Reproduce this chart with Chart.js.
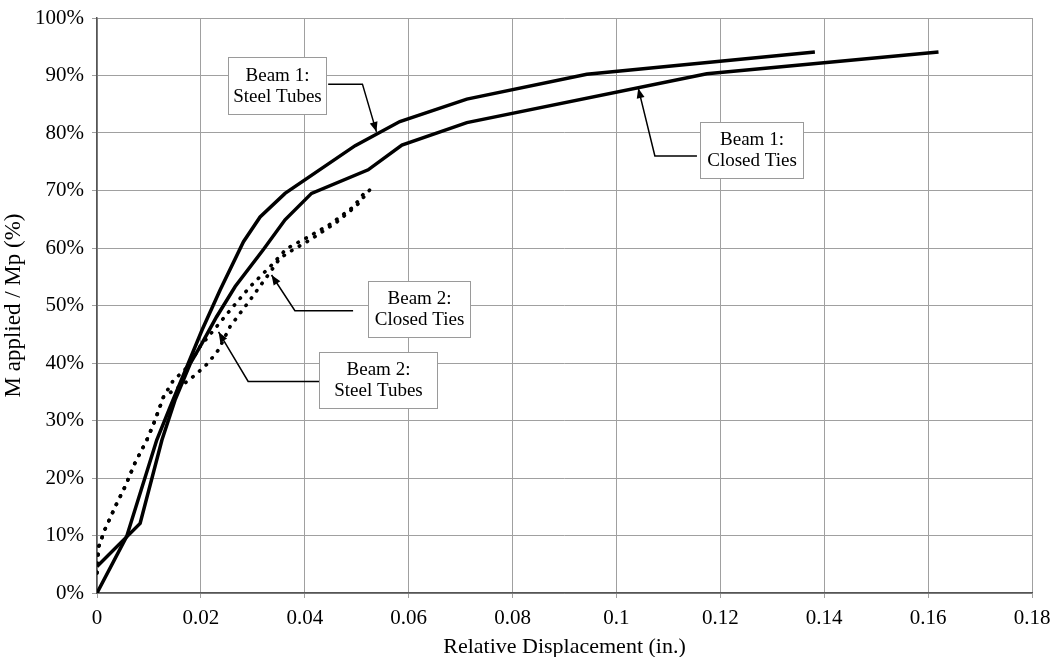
<!DOCTYPE html>
<html>
<head>
<meta charset="utf-8">
<script src="https://cdn.jsdelivr.net/npm/chart.js@4.4.1/dist/chart.umd.min.js"></script>
<style>
  html, body { margin: 0; padding: 0; background: #fff; }
  canvas { display: block; }
</style>
</head>
<body>
<canvas id="momentChart" width="1053" height="657"></canvas>
<script>
// Relative displacement (in.) and applied moment as % of Mp for each beam
const beam1TubesX = [0, 0.0057, 0.0115, 0.0141, 0.0176, 0.0202, 0.0237, 0.0282, 0.0314, 0.0362, 0.0497, 0.0583, 0.0712, 0.0943, 0.1382];
const beam1TubesY = [0, 9.8, 26.6, 32.4, 40.0, 45.7, 52.7, 61.1, 65.4, 69.5, 77.8, 82.0, 85.9, 90.2, 94.1];

const beam1TiesX = [0, 0.0083, 0.0125, 0.0150, 0.0180, 0.0202, 0.0230, 0.0266, 0.0320, 0.0362, 0.0413, 0.0522, 0.0587, 0.0712, 0.1174, 0.1620];
const beam1TiesY = [4.6, 12.1, 26.6, 33.5, 40.0, 43.4, 48.0, 53.3, 59.7, 64.9, 69.5, 73.6, 77.9, 81.8, 90.3, 94.1];

const beam2TubesX = [0, 0.0003, 0.0015, 0.0035, 0.0054, 0.0073, 0.0096, 0.0112, 0.0128, 0.0147, 0.0169, 0.0185, 0.0198, 0.0230, 0.0262, 0.0295, 0.0339, 0.0365, 0.0404, 0.0450, 0.0494, 0.0522];
const beam2TubesY = [3.5, 8.0, 11.0, 15.0, 18.5, 22.6, 26.6, 30.1, 34.1, 37.0, 38.8, 40.8, 42.8, 46.3, 49.8, 53.3, 57.3, 59.9, 61.8, 64.2, 67.2, 70.4];

const beam2TiesX = [0, 0.0003, 0.0015, 0.0035, 0.0054, 0.0073, 0.0096, 0.0112, 0.0128, 0.0147, 0.0169, 0.0189, 0.0214, 0.0234, 0.0256, 0.0295, 0.0327, 0.0352, 0.0372, 0.0410, 0.0460, 0.0500, 0.0526];
const beam2TiesY = [3.5, 8.0, 11.0, 15.0, 18.5, 22.6, 26.6, 30.1, 34.1, 35.2, 36.5, 37.9, 40.0, 42.3, 46.3, 51.0, 55.0, 58.2, 59.4, 61.4, 64.4, 67.4, 70.2];

// Callout boxes: box edges and leader path in data units (x in., y in %)
const callouts = [
  { text: ['Beam 1:', 'Steel Tubes'], box: [0.0252, 93.2, 0.0441, 83.3], path: [[0.0445, 88.5], [0.0511, 88.5], [0.0538, 80.2]] },
  { text: ['Beam 1:', 'Closed Ties'], box: [0.1160, 82.0, 0.1360, 72.1], path: [[0.1155, 76.0], [0.1074, 76.0], [0.1042, 87.8]] },
  { text: ['Beam 2:', 'Closed Ties'], box: [0.0522, 54.3, 0.0719, 44.6], path: [[0.0493, 49.1], [0.0381, 49.1], [0.0336, 55.3]] },
  { text: ['Beam 2:', 'Steel Tubes'], box: [0.0428, 41.9, 0.0655, 32.1], path: [[0.0431, 36.8], [0.0291, 36.8], [0.0234, 45.4]] }
];

const FONT = 'Liberation Serif';

function toPoints(xs, ys) {
  return xs.map((x, i) => ({ x: x, y: ys[i] }));
}

function solid(label, xs, ys) {
  return {
    label: label,
    data: toPoints(xs, ys),
    borderColor: '#000',
    borderWidth: 3.5,
    pointRadius: 0,
    fill: false,
    tension: 0
  };
}

function dotted(label, xs, ys) {
  return {
    label: label,
    data: toPoints(xs, ys),
    borderColor: '#000',
    borderWidth: 3.6,
    borderDash: [0.5, 8.5],
    borderCapStyle: 'round',
    pointRadius: 0,
    fill: false,
    tension: 0
  };
}

// draws the labelled boxes with their arrowed leaders
const calloutPlugin = {
  id: 'callouts',
  afterDatasetsDraw(chart) {
    const ctx = chart.ctx;
    const xs = chart.scales.x, ys = chart.scales.y;
    ctx.save();
    callouts.forEach(c => {
      const pts = c.path.map(p => [xs.getPixelForValue(p[0]), ys.getPixelForValue(p[1])]);
      ctx.strokeStyle = '#000';
      ctx.lineWidth = 1.5;
      ctx.beginPath();
      pts.forEach((p, i) => i ? ctx.lineTo(p[0], p[1]) : ctx.moveTo(p[0], p[1]));
      ctx.stroke();

      // arrow head at the last point
      const a = pts[pts.length - 2], b = pts[pts.length - 1];
      const ang = Math.atan2(b[1] - a[1], b[0] - a[0]);
      const len = 10, half = 4;
      ctx.fillStyle = '#000';
      ctx.beginPath();
      ctx.moveTo(b[0], b[1]);
      ctx.lineTo(b[0] - len * Math.cos(ang) + half * Math.sin(ang), b[1] - len * Math.sin(ang) - half * Math.cos(ang));
      ctx.lineTo(b[0] - len * Math.cos(ang) - half * Math.sin(ang), b[1] - len * Math.sin(ang) + half * Math.cos(ang));
      ctx.closePath();
      ctx.fill();

      const x1 = Math.round(xs.getPixelForValue(c.box[0])) + 0.5;
      const y1 = Math.round(ys.getPixelForValue(c.box[1])) + 0.5;
      const x2 = Math.round(xs.getPixelForValue(c.box[2])) + 0.5;
      const y2 = Math.round(ys.getPixelForValue(c.box[3])) + 0.5;
      ctx.fillStyle = '#fff';
      ctx.fillRect(x1, y1, x2 - x1, y2 - y1);
      ctx.strokeStyle = '#9a9a9a';
      ctx.lineWidth = 1;
      ctx.strokeRect(x1, y1, x2 - x1, y2 - y1);

      ctx.fillStyle = '#000';
      ctx.font = '19px "' + FONT + '"';
      ctx.textAlign = 'center';
      ctx.textBaseline = 'middle';
      const cx = (x1 + x2) / 2, cy = (y1 + y2) / 2;
      ctx.fillText(c.text[0], cx, cy - 10);
      ctx.fillText(c.text[1], cx, cy + 11);
    });
    ctx.restore();
  }
};

new Chart(document.getElementById('momentChart').getContext('2d'), {
  type: 'line',
  data: {
    datasets: [
      solid('Beam 1: Steel Tubes', beam1TubesX, beam1TubesY),
      solid('Beam 1: Closed Ties', beam1TiesX, beam1TiesY),
      dotted('Beam 2: Steel Tubes', beam2TubesX, beam2TubesY),
      dotted('Beam 2: Closed Ties', beam2TiesX, beam2TiesY)
    ]
  },
  options: {
    responsive: false,
    animation: false,
    layout: { padding: { top: 18, right: 21, left: 0, bottom: 0 } },
    plugins: {
      legend: { display: false },
      tooltip: { enabled: false }
    },
    scales: {
      x: {
        type: 'linear',
        min: 0,
        max: 0.18,
        afterFit: scale => {
          scale.height = 64;
          scale.paddingLeft = 0;
          scale.paddingRight = 0;
        },
        ticks: {
          stepSize: 0.02,
          color: '#000',
          padding: 8,
          maxRotation: 0,
          font: { family: FONT, size: 21 },
          callback: v => String(+v.toFixed(2))
        },
        grid: { color: '#a0a0a0', lineWidth: 1, tickLength: 5 },
        border: { color: '#555', width: 1.5 },
        title: {
          display: true,
          text: 'Relative Displacement (in.)',
          color: '#000',
          font: { family: FONT, size: 22 },
          padding: { top: 0, bottom: -3 }
        }
      },
      y: {
        min: 0,
        max: 100,
        afterFit: scale => {
          scale.width = 97;
          scale.paddingTop = 0;
          scale.paddingBottom = 0;
        },
        ticks: {
          stepSize: 10,
          color: '#000',
          padding: 8,
          font: { family: FONT, size: 21 },
          callback: v => v + '%'
        },
        grid: { color: '#a0a0a0', lineWidth: 1, tickLength: 5 },
        border: { color: '#555', width: 1.5 },
        title: {
          display: true,
          text: 'M applied / Mp (%)',
          color: '#000',
          font: { family: FONT, size: 23 },
          padding: { top: 0, bottom: 0 }
        }
      }
    }
  },
  plugins: [calloutPlugin]
});
</script>
</body>
</html>
